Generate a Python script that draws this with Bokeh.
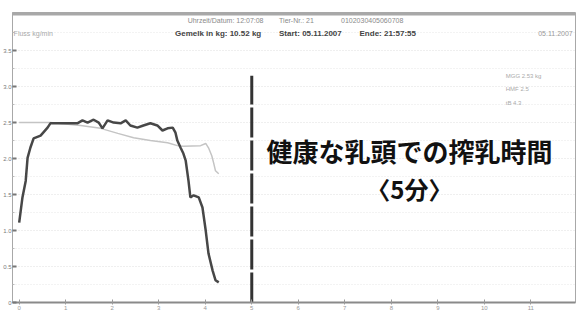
from bokeh.plotting import figure
from bokeh.models import FixedTicker, Label, Span, Range1d
from bokeh.embed import file_html
from bokeh.resources import INLINE

# ---- data ----
# milk flow curve (dark), time in minutes, flow in kg/min
flow_t = [0.00, 0.07, 0.14, 0.18, 0.24, 0.31, 0.46, 0.61, 0.67, 1.25, 1.36, 1.47, 1.60,
          1.71, 1.79, 1.90, 2.03, 2.18, 2.29, 2.39, 2.54, 2.67, 2.82, 2.97, 3.08, 3.19,
          3.30, 3.36, 3.40, 3.47, 3.53, 3.58, 3.64, 3.68, 3.75, 3.86, 3.94, 4.01, 4.07,
          4.16, 4.22, 4.29]
flow_v = [1.11, 1.46, 1.69, 2.01, 2.15, 2.28, 2.32, 2.43, 2.49, 2.49, 2.53, 2.50, 2.54,
          2.50, 2.42, 2.53, 2.50, 2.49, 2.53, 2.46, 2.43, 2.46, 2.49, 2.46, 2.39, 2.42,
          2.43, 2.36, 2.25, 2.15, 2.07, 1.97, 1.69, 1.46, 1.49, 1.46, 1.32, 1.00, 0.68,
          0.44, 0.31, 0.28]
# second (light grey) curve
ref_t = [0.00, 0.67, 1.32, 1.75, 2.12, 2.46, 2.82, 3.19, 3.40, 3.53, 3.90, 4.01, 4.07,
         4.14, 4.18, 4.22, 4.29]
ref_v = [2.50, 2.50, 2.46, 2.42, 2.35, 2.29, 2.25, 2.22, 2.18, 2.17, 2.18, 2.21, 2.15,
         2.04, 1.94, 1.83, 1.79]
# marker: healthy-teat milking time (5 min)
mark_t = 5.0
mark_top = 3.15

x_ticks = list(range(0, 13))
x_tick_labels = [str(v) for v in x_ticks]
y_ticks = [0.0, 0.5, 1.0, 1.5, 2.0, 2.5, 3.0, 3.5]
y_tick_labels = ["0", "0.5", "1.0", "1.5", "2.0", "2.5", "3.0", "3.5"]
y_minor = [0.25, 0.75, 1.25, 1.75, 2.25, 2.75, 3.25, 3.75]

NB = "\u00a0"
header1 = ("Uhrzeit/Datum:" + NB + "12:07:08" + NB * 8 + "Tier-Nr.:" + NB + "21"
           + NB * 14 + "0102030405060708")
header2 = ("Gemelk" + NB + "in" + NB + "kg:" + NB + "10.52" + NB + "kg" + NB * 8 + "Start:" + NB
           + "05.11.2007" + NB * 8 + "Ende:" + NB + "21:57:55")
left_header = "Fluss kg/min"
right_header = "05.11.2007"
side_info = ["MGG 2.53 kg", "HMF 2.5", "tB 4.3"]
title1 = "健康な乳頭での搾乳時間"
title2 = "〈5分〉"

# ---- figure ----
p = figure(width=582, height=317, output_backend="svg", toolbar_location=None,
           x_range=Range1d(-0.144, 11.96), y_range=Range1d(0, 4.03),
           min_border_left=12, min_border_right=7, min_border_top=12, min_border_bottom=15)
p.background_fill_color = "white"
p.border_fill_color = "white"
p.outline_line_color = "#a8a8a8"
p.outline_line_width = 1

# axes
p.xaxis.ticker = FixedTicker(ticks=x_ticks)
p.xaxis.major_label_overrides = {t: l for t, l in zip(x_ticks, x_tick_labels)}
p.xaxis.major_label_text_font_size = "6px"
p.xaxis.major_label_text_color = "#9a9a9a"
p.xaxis.major_label_standoff = 1
p.xaxis.axis_label_standoff = 0
p.xaxis.major_tick_in = 3
p.xaxis.major_tick_out = 2
p.xaxis.minor_tick_line_color = None
p.xaxis.axis_line_color = "#8a8a8a"
p.xaxis.axis_line_width = 2
p.xaxis.major_tick_line_color = "#9a9a9a"

p.yaxis.ticker = FixedTicker(ticks=y_ticks, minor_ticks=y_minor)
p.yaxis.major_label_overrides = {t: l for t, l in zip(y_ticks, y_tick_labels)}
p.yaxis.major_label_text_font_size = "6px"
p.yaxis.major_label_text_color = "#7a7a7a"
p.yaxis.major_label_standoff = 1
p.yaxis.axis_label_standoff = 0
p.yaxis.major_tick_in = 4
p.yaxis.major_tick_out = 0
p.yaxis.minor_tick_in = 2
p.yaxis.minor_tick_out = 0
p.yaxis.axis_line_color = "#a8a8a8"
p.yaxis.major_tick_line_color = "#777777"
p.yaxis.major_tick_line_width = 2
p.yaxis.minor_tick_line_color = "#bbbbbb"

p.xgrid.grid_line_color = None
p.ygrid.grid_line_color = "#dedede"
p.ygrid.grid_line_dash = "1 2"
p.ygrid.minor_grid_line_color = "#e6e6e6"
p.ygrid.minor_grid_line_dash = "1 2"

# top grey bar
p.add_layout(Span(location=4.01, dimension="width", line_color="#a8a8a8", line_width=3))

# curves
p.line(ref_t, ref_v, line_color="#c4c4c4", line_width=1.5)
p.line(flow_t, flow_v, line_color="#474747", line_width=2.5)

# 5-minute marker
p.segment(x0=[mark_t], y0=[0], x1=[mark_t], y1=[mark_top],
          line_color="#333333", line_width=3, line_dash="30 3")

# header texts
p.add_layout(Label(x=5.94, y=3.92, text=header1, text_align="center", text_baseline="middle",
                   text_font="Liberation Sans", text_font_size="7px", text_color="#8a8a8a"))
p.add_layout(Label(x=5.94, y=3.74, text=header2, text_align="center", text_baseline="middle",
                   text_font="Liberation Sans", text_font_size="8px", text_font_style="bold",
                   text_color="#444444"))
p.add_layout(Label(x=-0.12, y=3.74, text=left_header, text_align="left", text_baseline="middle",
                   text_font="Liberation Sans", text_font_size="7px", text_color="#aaaaaa"))
p.add_layout(Label(x=11.9, y=3.74, text=right_header, text_align="right", text_baseline="middle",
                   text_font="Liberation Sans", text_font_size="7px", text_color="#999999"))
for i, s in enumerate(side_info):
    p.add_layout(Label(x=10.46, y=3.15 - i * 0.19, text=s, text_align="left", text_baseline="middle",
                       text_font="Liberation Sans", text_font_size="6px", text_color="#aaaaaa"))

# Japanese annotation
p.add_layout(Label(x=8.39, y=2.11, text=title1, text_align="center", text_baseline="middle",
                   text_font="Noto Sans CJK JP", text_font_size="26px", text_font_style="bold",
                   text_color="#111111"))
p.add_layout(Label(x=8.39, y=1.58, text=title2, text_align="center", text_baseline="middle",
                   text_font="Noto Sans CJK JP", text_font_size="24px", text_font_style="bold",
                   text_color="#111111"))

open("out.html", "w").write(file_html(p, INLINE))
